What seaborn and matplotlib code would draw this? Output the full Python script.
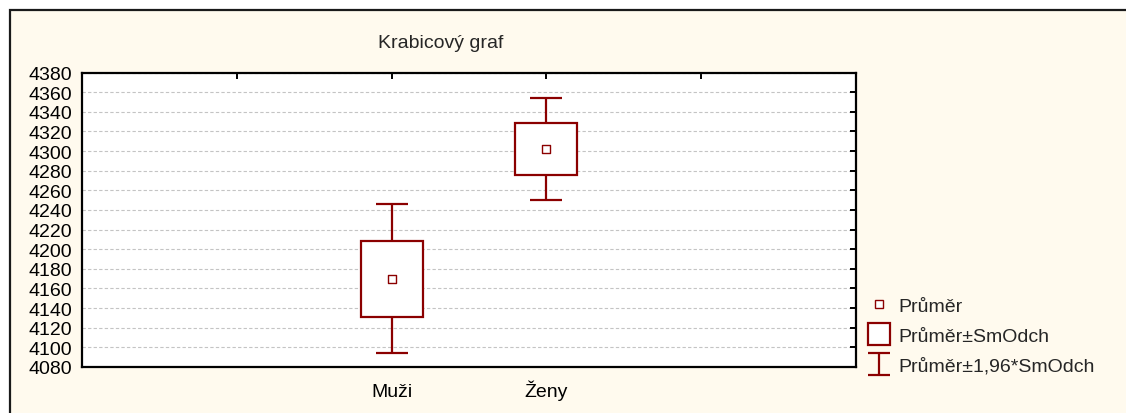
import matplotlib
matplotlib.use("Agg")
import matplotlib.pyplot as plt
from matplotlib.patches import Rectangle
from matplotlib.lines import Line2D
from matplotlib.path import Path
import seaborn as sns
import pandas as pd
import numpy as np

# ---- data ----
categories = ["Muži", "Ženy"]
means = [4170, 4302]
sds = [38.6, 26.3]
y_ticks = list(range(4080, 4381, 20))
title = "Krabicový graf"
legend_labels = ["Průměr", "Průměr±SmOdch", "Průměr±1,96*SmOdch"]

RED = "#8B0000"
CREAM = "#FFFAEE"
W, H = 1126, 414

sns.set_theme(style="white")
plt.rcParams["font.family"] = ["Liberation Sans", "DejaVu Sans"]
FS = 14

df = pd.DataFrame({"kat": categories, "prumer": means, "sd": sds})
df["lo"] = df["prumer"] - df["sd"]

fig = plt.figure(figsize=(W / 100, H / 100), dpi=100)
fig.patch.set_facecolor("white")
# cream panel with top/left border
fig.patches.append(Rectangle((10 / W, -0.2), 1.5, 1 - 11 / H + 0.2,
                             transform=fig.transFigure, facecolor=CREAM,
                             edgecolor="#1a1a1a", linewidth=1.6, zorder=-10))

ax = fig.add_axes([82 / W, 1 - 368 / H, (856 - 82) / W, (368 - 73.5) / H])
ax.set_facecolor("white")

xpos = np.arange(len(categories))
# whiskers (mean ± 1.96 SD)
ax.errorbar(xpos, df["prumer"], yerr=1.96 * df["sd"], fmt="none",
            ecolor=RED, elinewidth=1.6, capsize=11.5, capthick=1.6, zorder=2)
# boxes (mean ± SD)
ax.bar(xpos, 2 * df["sd"], bottom=df["lo"], width=0.4, facecolor="white",
       edgecolor=RED, linewidth=1.6, zorder=3)
# means
sns.scatterplot(data=df, x="kat", y="prumer", marker="s", s=28,
                facecolor="white", edgecolor=RED, linewidth=1.0,
                ax=ax, zorder=4, legend=False)

ax.set_xlim(-2, 3)
ax.set_xticks([-1, 0, 1, 2])
ax.set_xticklabels(["", categories[0], categories[1], ""], fontsize=FS)
ax.set_ylim(y_ticks[0], y_ticks[-1])
ax.set_yticks(y_ticks)
ax.set_yticklabels([str(v) for v in y_ticks], fontsize=FS)
ax.set_xlabel("")
ax.set_ylabel("")
ax.tick_params(direction="in", length=4, width=1.4, top=True, right=True,
               color="black", labelcolor="black")
ax.tick_params(axis="y", pad=7)
ax.tick_params(axis="x", pad=20.8)
for lbl in ax.get_xticklabels():
    lbl.set_verticalalignment("baseline")
ax.yaxis.grid(True, color="#c4c4c4", linestyle=(0, (3, 2)), linewidth=0.8)
ax.xaxis.grid(False)
ax.set_axisbelow(True)
for s in ax.spines.values():
    s.set_color("black")
    s.set_linewidth(1.6)

fig.text(441 / W, 1 - 48 / H, title, ha="center", va="baseline", fontsize=FS)

# legend
ibar = Path([(-1, 1), (1, 1), (0, 1), (0, -1), (-1, -1), (1, -1)],
            [Path.MOVETO, Path.LINETO, Path.MOVETO, Path.LINETO, Path.MOVETO, Path.LINETO])
handles = [
    Line2D([], [], linestyle="none", marker="s", markersize=5.5,
           markerfacecolor="white", markeredgecolor=RED, markeredgewidth=1.0),
    Line2D([], [], linestyle="none", marker="s", markersize=15.5,
           markerfacecolor="white", markeredgecolor=RED, markeredgewidth=1.6),
    Line2D([], [], linestyle="none", marker=ibar, markersize=16,
           markerfacecolor="none", markeredgecolor=RED, markeredgewidth=1.6),
]
fig.legend(handles, legend_labels, loc="upper left",
           bbox_to_anchor=(868 / W, 1 - 298.5 / H), frameon=False,
           fontsize=FS, borderpad=0, borderaxespad=0, handlelength=1.15,
           handletextpad=0.42, labelspacing=0.62)

fig.savefig("out.png", dpi=100, facecolor=fig.get_facecolor())
